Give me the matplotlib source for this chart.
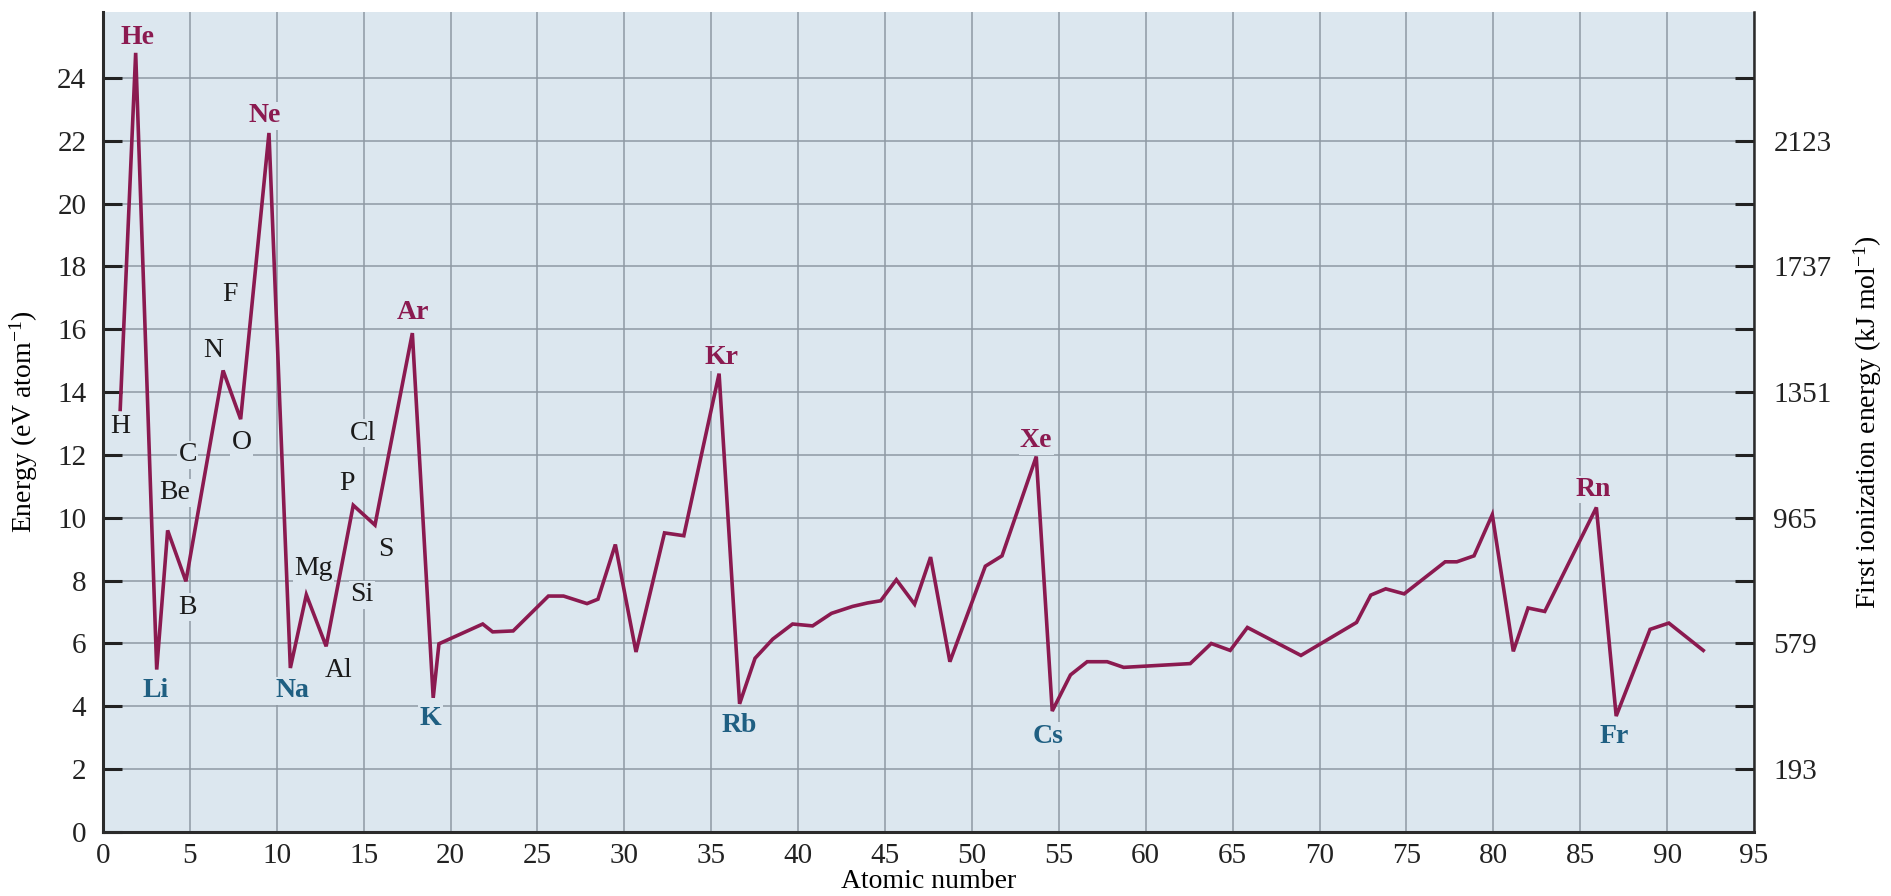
import matplotlib
matplotlib.use("Agg")
import matplotlib.pyplot as plt

plt.rcParams["font.family"] = ["Liberation Serif", "DejaVu Serif"]
plt.rcParams["mathtext.fontset"] = "custom"
plt.rcParams["mathtext.rm"] = "Liberation Serif"
plt.rcParams["mathtext.it"] = "Liberation Serif:italic"

# first ionization energy (eV) against atomic number, as traced on the curve
atomic_number = [0.99, 1.88, 3.09, 3.72, 4.77, 6.91, 7.92, 9.55, 10.78, 11.7,
                 12.84, 14.4, 15.65, 17.8, 19.0, 19.33, 21.85, 22.42, 23.6, 25.63,
                 26.5, 27.85, 28.48, 29.48, 30.67, 32.31, 33.42, 35.45, 36.63, 37.52,
                 38.54, 39.68, 40.83, 41.92, 43.13, 43.99, 44.75, 45.65, 46.7, 47.62,
                 48.73, 50.77, 51.73, 53.7, 54.62, 55.67, 56.63, 57.78, 58.73, 62.56,
                 63.77, 64.86, 65.85, 68.93, 72.13, 72.95, 73.81, 74.87, 77.23, 77.9,
                 78.89, 79.94, 81.15, 82.0, 82.96, 85.93, 87.07, 89.02, 90.1, 92.08]
energy_ev = [13.45, 24.8, 5.17, 9.6, 7.98, 14.69, 13.14, 22.25, 5.22, 7.55,
             5.91, 10.4, 9.77, 15.88, 4.27, 5.99, 6.62, 6.37, 6.4, 7.51,
             7.51, 7.27, 7.41, 9.15, 5.73, 9.52, 9.43, 14.59, 4.08, 5.53,
             6.14, 6.62, 6.56, 6.96, 7.18, 7.29, 7.36, 8.03, 7.25, 8.75,
             5.42, 8.46, 8.79, 11.95, 3.85, 5.0, 5.42, 5.42, 5.24, 5.36,
             6.0, 5.78, 6.51, 5.62, 6.67, 7.54, 7.74, 7.58, 8.6, 8.6,
             8.79, 10.1, 5.75, 7.13, 7.02, 10.33, 3.69, 6.45, 6.65, 5.78]

noble_gases = ["He", "Ne", "Ar", "Kr", "Xe", "Rn"]
alkali_metals = ["Li", "Na", "K", "Rb", "Cs", "Fr"]
other_elements = ["H", "Be", "B", "C", "N", "O", "F", "Mg", "Al", "Si", "P", "S", "Cl"]

# where each symbol is written (atomic number, eV)
label_pos = {
    "He": (1.97, 25.3), "Ne": (9.3, 22.8), "Ar": (17.85, 16.55),
    "Kr": (35.57, 15.1), "Xe": (53.7, 12.45), "Rn": (85.74, 10.9),
    "Li": (3.05, 4.5), "Na": (10.9, 4.5), "K": (18.85, 3.6),
    "Rb": (36.63, 3.4), "Cs": (54.37, 3.05), "Fr": (86.98, 3.05),
    "H": (0.99, 12.9), "Be": (4.1, 10.8), "B": (4.87, 7.15), "C": (4.87, 12.0),
    "N": (6.33, 15.33), "O": (7.97, 12.4), "F": (7.3, 17.1), "Mg": (12.1, 8.4),
    "Al": (13.55, 5.15), "Si": (14.9, 7.55), "P": (14.05, 11.08),
    "S": (16.3, 9.0), "Cl": (14.98, 12.69),
}

ev_ticks = list(range(0, 25, 2))
kj_tick_ev = [2, 6, 10, 14, 18, 22]
kj_labels = [193, 579, 965, 1351, 1737, 2123]
kj_minor_ev = [4, 8, 12, 16, 20, 24]
x_ticks = list(range(0, 96, 5))

bg = "#dce7ef"
line_color = "#8b1a50"
alkali_color = "#1f5f82"
grid_color = "#8f9aa4"
spine_color = "#2b2b2b"

fig = plt.figure(figsize=(18.91, 8.96), dpi=100)
ax = fig.add_axes([103 / 1891, 64 / 896, 1651 / 1891, 820 / 896])
ax.set_facecolor(bg)
ax.set_axisbelow(True)
ax.grid(True, color=grid_color, linewidth=1.1)

ax.plot(atomic_number, energy_ev, color=line_color, linewidth=2.6,
        solid_joinstyle="miter", zorder=3)

for sym in noble_gases + alkali_metals + other_elements:
    if sym in noble_gases:
        color, weight = line_color, "bold"
    elif sym in alkali_metals:
        color, weight = alkali_color, "bold"
    else:
        color, weight = "#1a1a1a", "normal"
    x, y = label_pos[sym]
    ax.text(x, y, sym, ha="center", va="center", fontsize=20, color=color,
            fontweight=weight, zorder=2.5,
            bbox=dict(facecolor=bg, edgecolor="none", pad=1.0))

ax.set_xlim(0, 95)
ax.set_ylim(0, 26.1)
ax.set_xticks(x_ticks)
ax.set_yticks(ev_ticks)
ax.tick_params(axis="x", length=0, pad=8, labelsize=21, colors="#222222")
ax.tick_params(axis="y", direction="in", length=14, width=2.2, pad=12,
               labelsize=21, colors="#222222")
ax.spines["top"].set_visible(False)
ax.spines["right"].set_visible(False)
for side in ["left", "bottom"]:
    ax.spines[side].set_linewidth(2.2)
    ax.spines[side].set_color(spine_color)

ax.set_xlabel("Atomic number", fontsize=20)
ax.xaxis.set_label_coords(0.5, -0.045)
ax.set_ylabel("Energy (eV atom$^{-1}$)", fontsize=20, labelpad=12)

# second scale: the same energy in kJ per mole
ax2 = ax.twinx()
ax2.set_ylim(0, 26.1)
ax2.set_yticks(kj_tick_ev)
ax2.set_yticklabels([str(v) for v in kj_labels])
ax2.set_yticks(kj_minor_ev, minor=True)
ax2.tick_params(axis="y", which="both", direction="in", length=14, width=2.2,
                pad=14, labelsize=21, colors="#222222")
for side in ["top", "left", "bottom"]:
    ax2.spines[side].set_visible(False)
ax2.spines["right"].set_linewidth(1.8)
ax2.spines["right"].set_color(spine_color)
ax2.set_ylabel("First ionization energy (kJ mol$^{-1}$)", fontsize=20, labelpad=14)

fig.savefig("out.png", dpi=100, facecolor="white")
